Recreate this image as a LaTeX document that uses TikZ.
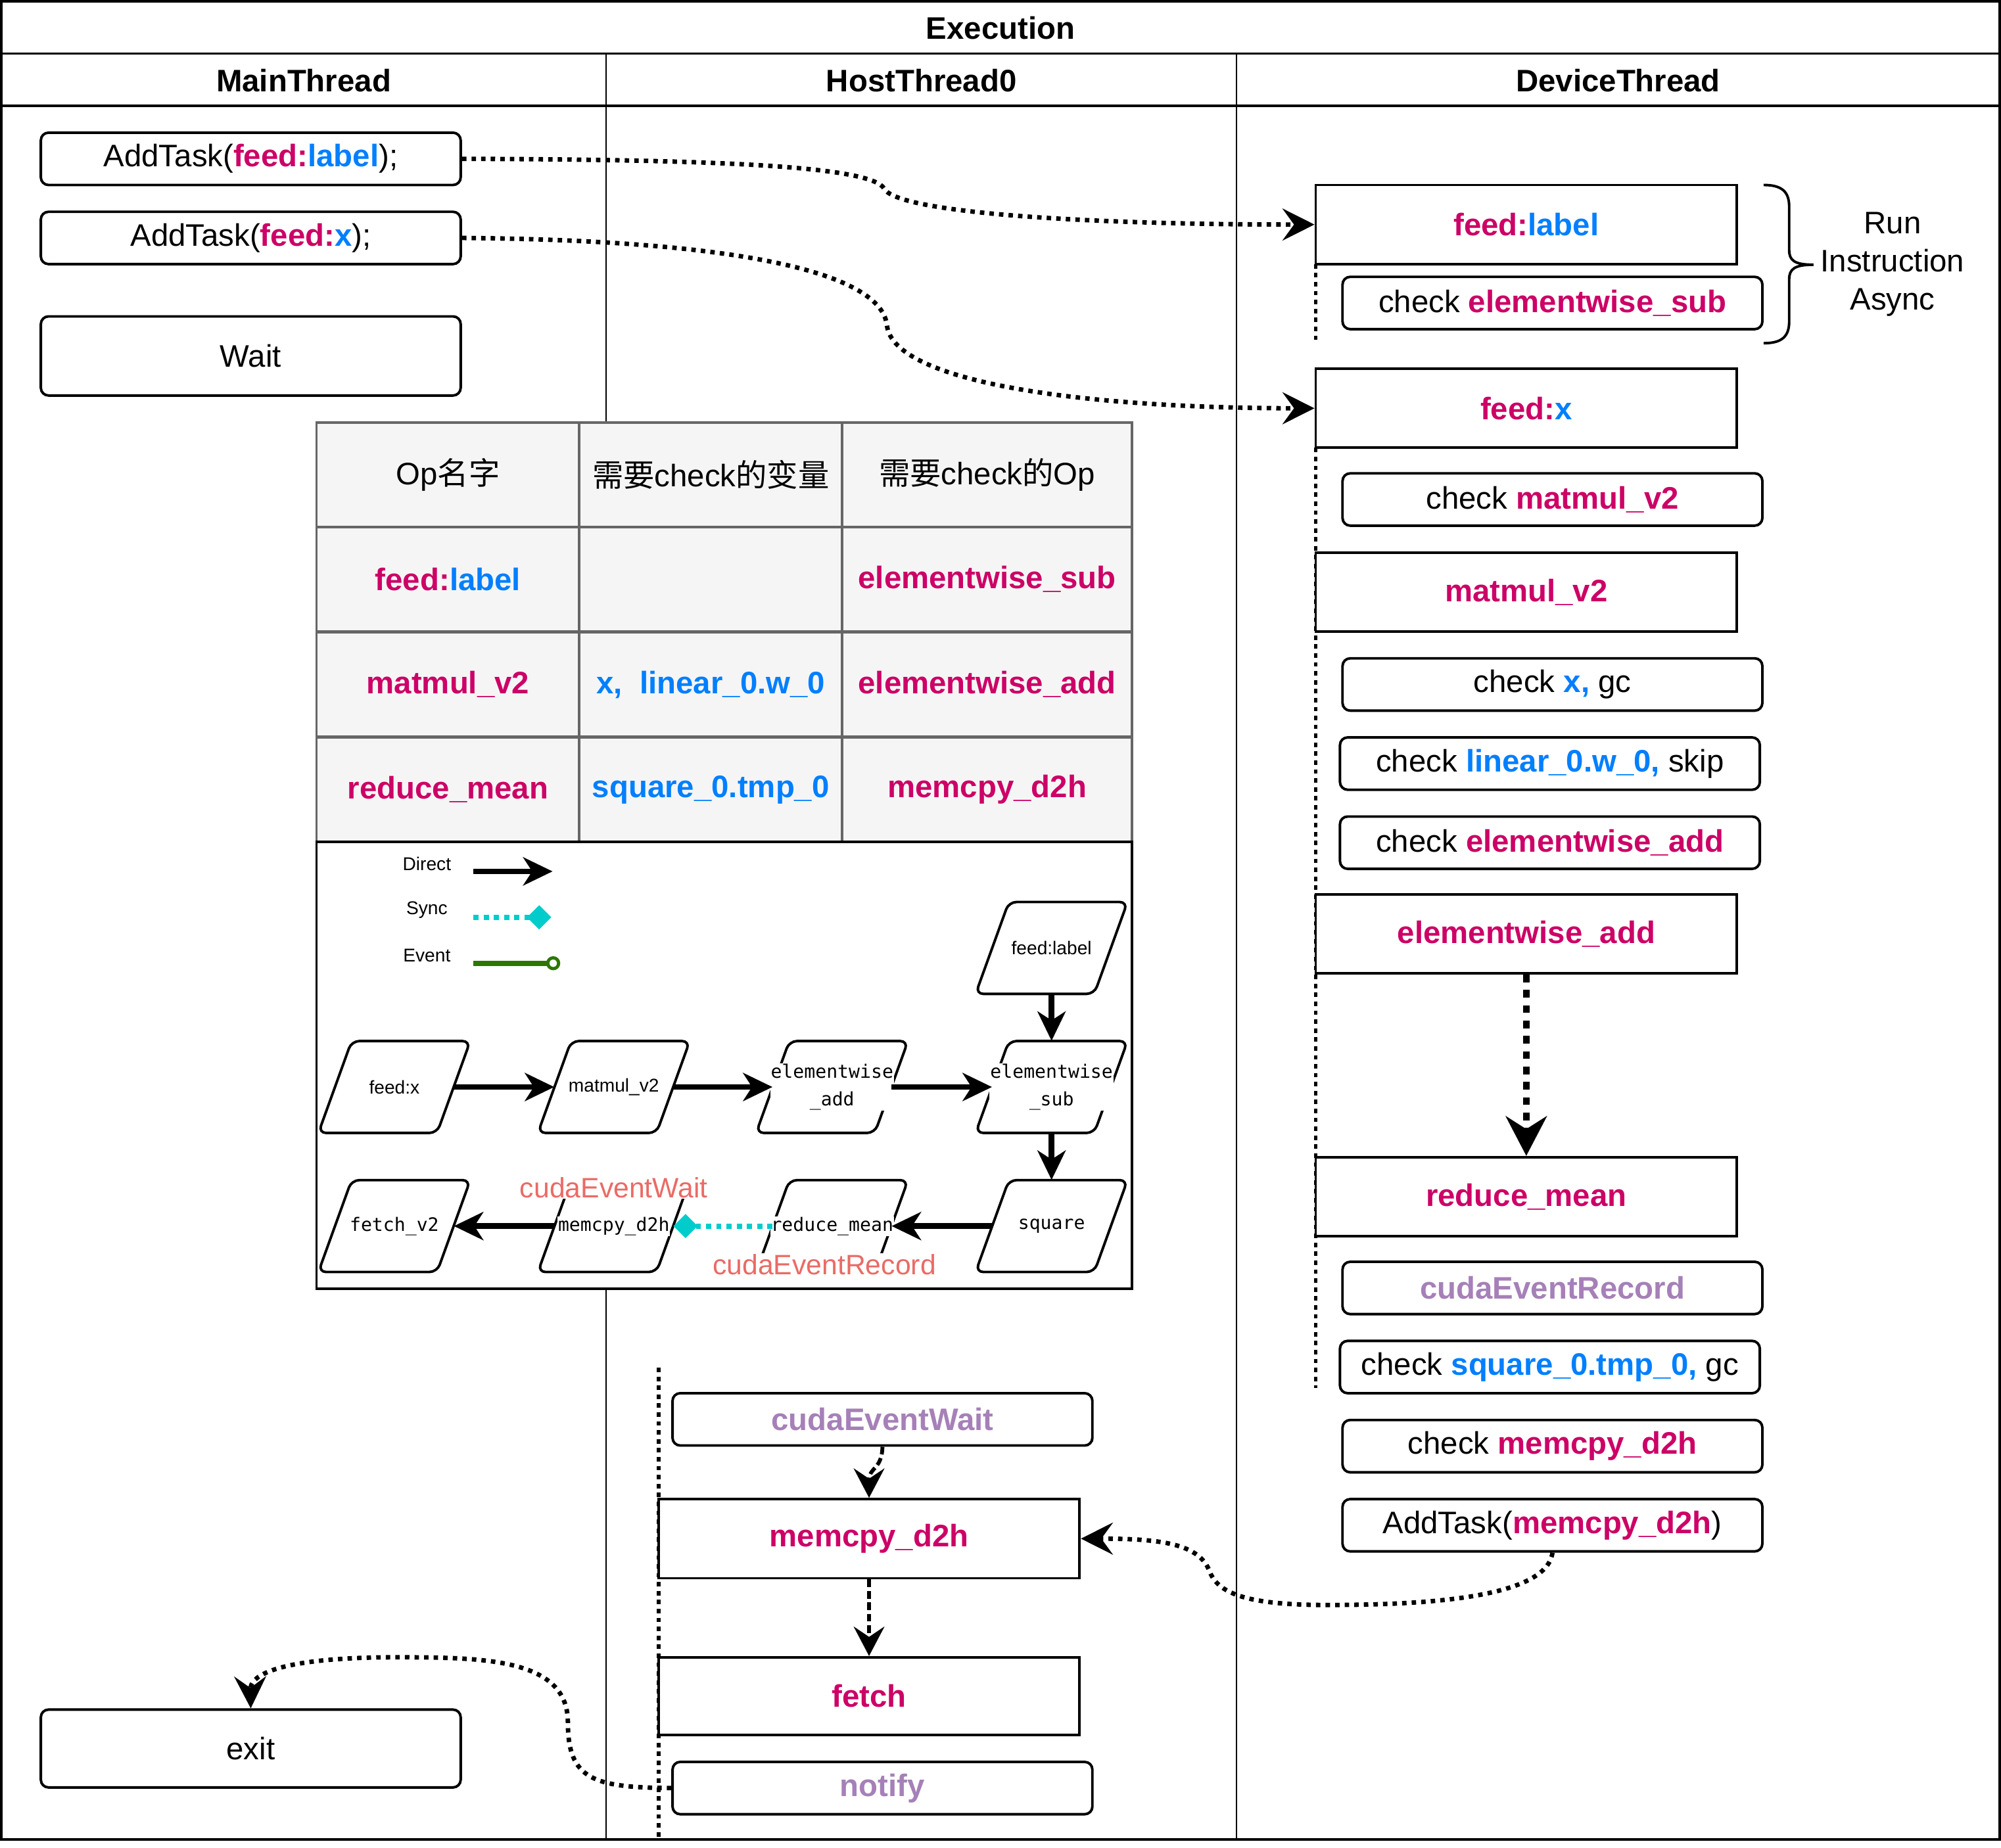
\documentclass[tikz,border=0pt]{standalone}
\usepackage{fontspec}
\setmainfont{Liberation Sans}
\newfontfamily\cjk{Noto Sans CJK SC}
\newfontfamily\gmono{DejaVu Sans Mono}
\usetikzlibrary{arrows.meta}
\definecolor{cpink}{HTML}{CC0066}
\definecolor{cblue}{HTML}{007FFF}
\definecolor{cpurple}{HTML}{A680B8}
\definecolor{csalmon}{HTML}{EA6B66}
\definecolor{cteal}{HTML}{00CCCC}
\definecolor{cgreen}{HTML}{2D7600}
\definecolor{cfill}{HTML}{F5F5F5}
\definecolor{cgrid}{HTML}{666666}
\newcommand\pk[1]{{\bfseries\color{cpink}#1}}
\newcommand\bl[1]{{\bfseries\color{cblue}#1}}
\newcommand\pu[1]{{\bfseries\color{cpurple}#1}}
\newcommand\fsb{\fontsize{24.4}{30}\selectfont}
\newcommand\fsg{\fontsize{14.5}{22}\selectfont}
\newcommand\fsl{\fontsize{22}{26}\selectfont}
\newcommand\gparal[5]{%
  \draw[line width=2pt, rounded corners=6pt, fill=white] ({#2-59.5},{#3+36}) -- ({#2-33.5},{#3-36}) -- ({#2+59.5},{#3-36}) -- ({#2+33.5},{#3+36}) -- cycle;
  \node[gnode] (#1) at (#2,#3) {};
  \node[#4] (#1t) at (#2,#3) {#5};}
\begin{document}
\begin{tikzpicture}[x=1pt,y=-1pt,
 rbox/.style={draw,line width=2pt,rounded corners=6pt,minimum width=329pt,minimum height=41pt,inner sep=0pt,fill=white,font=\fsb},
 sbox/.style={draw,line width=2pt,minimum width=330pt,minimum height=62pt,inner sep=0pt,fill=white,font=\fsb},
 cell/.style={draw=cgrid,fill=cfill,line width=2pt,minimum height=82pt,inner sep=0pt,font=\fsb},
 gnode/.style={minimum width=93pt,minimum height=72pt,inner sep=0pt},
 gsans/.style={font=\fsg, inner sep=0pt},
 gmonol/.style={font=\gmono\fsg, fill=white, inner sep=0.5pt, align=center},
 poolframe/.style={line width=2pt},
 laneline/.style={line width=1.3pt},
 lifeline/.style={line width=3pt, dash pattern=on 3.5pt off 3.5pt},
 dotarr/.style={line width=3.5pt, dash pattern=on 3.5pt off 4pt, -{Stealth[length=25pt,width=25pt,inset=9pt]}},
 dasharr/.style={line width=3pt, dash pattern=on 6pt off 3pt, -{Stealth[length=23pt,width=24pt,inset=8pt]}},
 thickarr/.style={line width=5.5pt, dash pattern=on 6pt off 6pt, -{Stealth[length=31pt,width=32pt,inset=10pt]}},
 garr/.style={line width=4.5pt, -{Stealth[length=23pt,width=22pt,inset=7pt]}},
 syncarr/.style={draw=cteal, line width=4pt, dash pattern=on 4pt off 4pt, -{Diamond[length=19pt,width=19pt,fill=cteal,color=cteal]}},
 evtarr/.style={draw=cgreen, line width=4pt, -{Circle[open,length=11pt,width=11pt,line width=2.5pt,color=cgreen]}},
 evlabel/.style={font=\fsl, text=csalmon, fill=white, inner sep=0.5pt},
]
\useasboundingbox (0,0) rectangle (1568,1448);
% pool frame
\draw[poolframe] (1,1) rectangle (1567,1442);
\draw[poolframe] (1,42) -- (1567,42);
\draw[poolframe] (1,83) -- (1567,83);
\draw[laneline] (475,42) -- (475,1442);
\draw[laneline] (969,42) -- (969,1442);
\node[font=\fsb\bfseries] (title) at (784,22) {Execution};
\node[font=\fsb\bfseries] (h1) at (238,63) {MainThread};
\node[font=\fsb\bfseries] (h2) at (722,63) {HostThread0};
\node[font=\fsb\bfseries] (h3) at (1268,63) {DeviceThread};

% table
\node[cell, minimum width=206pt] (t00) at (351,372) {Op{\cjk 名字}};
\node[cell, minimum width=206pt] (t01) at (557,372) {{\cjk 需要}check{\cjk 的变量}};
\node[cell, minimum width=227pt] (t02) at (773.5,372) {{\cjk 需要}check{\cjk 的}Op};
\node[cell, minimum width=206pt] (t10) at (351,454) {\pk{feed:}\bl{label}};
\node[cell, minimum width=206pt] (t11) at (557,454) {};
\node[cell, minimum width=227pt] (t12) at (773.5,454) {\pk{elementwise\_sub}};
\node[cell, minimum width=206pt] (t20) at (351,536.5) {\pk{matmul\_v2}};
\node[cell, minimum width=206pt] (t21) at (557,536.5) {\bl{x,\ \ linear\_0.w\_0}};
\node[cell, minimum width=227pt] (t22) at (773.5,536.5) {\pk{elementwise\_add}};
\node[cell, minimum width=206pt] (t30) at (351,619) {\pk{reduce\_mean}};
\node[cell, minimum width=206pt] (t31) at (557,619) {\bl{square\_0.tmp\_0}};
\node[cell, minimum width=227pt] (t32) at (773.5,619) {\pk{memcpy\_d2h}};

% graph box
\node[draw, line width=2pt, fill=white, minimum width=639pt, minimum height=350pt, inner sep=0pt] (gbox) at (567.5,835) {};
% legend
\node[font=\fsg] (lgd) at (334.5,677) {Direct};
\node[font=\fsg] (lgs) at (334.5,713) {Sync};
\node[font=\fsg] (lge) at (334.5,749) {Event};
\coordinate (lgd1) at (371,683); \coordinate (lgd2) at (433,683);
\coordinate (lgs1) at (371,719); \coordinate (lgs2) at (432,719);
\coordinate (lge1) at (371,755); \coordinate (lge2) at (439,755);
\draw[garr] (lgd1) -- (lgd2);
\draw[syncarr] (lgs1) -- (lgs2);
\draw[evtarr] (lge1) -- (lge2);
% graph nodes
\gparal{gfl}{824}{743}{gsans}{feed:label}
\gparal{gfx}{309}{852}{gsans}{feed:x}
\gparal{gmm}{481}{852}{gsans}{matmul\_v2}
\gparal{gea}{652}{852}{gmonol}{elementwise\\\_add}
\gparal{ges}{824}{852}{gmonol}{elementwise\\\_sub}
\gparal{gsq}{824}{961}{gmonol}{square}
\gparal{grm}{652}{961}{gmonol}{reduce\_mean}
\gparal{gmd}{481}{961}{gmonol}{memcpy\_d2h}
\gparal{gfv}{309}{961}{gmonol}{fetch\_v2}
\draw[garr] (gfx) -- (gmm);
\draw[garr] (gmm) -- (gea);
\draw[garr] (gea) -- (ges);
\draw[garr] (gfl) -- (ges);
\draw[garr] (ges) -- (gsq);
\draw[garr] (gsq) -- (grm);
\draw[syncarr] (grm) -- (gmd);
\draw[garr] (gmd) -- (gfv);
\node[evlabel] (lcw) at (481,931) {cudaEventWait};
\node[evlabel] (lcr) at (646,991) {cudaEventRecord};

% lifelines
\coordinate (hl1) at (516,1072);
\coordinate (hl2) at (516,1441);
\draw[lifeline] (1031,207) -- (1031,268);
\draw[lifeline] (1031,351) -- (1031,1088);
\draw[lifeline] (hl1) -- (hl2);

% main thread
\node[rbox] (at1) at (196.5,124.5) {AddTask(\pk{feed:}\bl{label});};
\node[rbox] (at2) at (196.5,186.5) {AddTask(\pk{feed:}\bl{x});};
\node[rbox, minimum height=62pt] (wait) at (196.5,279) {Wait};
\node[rbox, minimum height=61pt] (exit) at (196.5,1370.5) {exit};

% device thread
\node[sbox] (dfl) at (1196,176) {\pk{feed:}\bl{label}};
\node[rbox] (dcs) at (1216.5,237.5) {check \pk{elementwise\_sub}};
\node[sbox] (dfx) at (1196,320) {\pk{feed:}\bl{x}};
\node[rbox] (dcm) at (1216.5,391.5) {check \pk{matmul\_v2}};
\node[sbox] (dmm) at (1196,464) {\pk{matmul\_v2}};
\node[rbox] (dcx) at (1216.5,536.5) {check \bl{x,} gc};
\node[rbox] (dcl) at (1214.5,598.5) {check \bl{linear\_0.w\_0,} skip};
\node[rbox] (dca) at (1214.5,660.5) {check \pk{elementwise\_add}};
\node[sbox] (dea) at (1196,732) {\pk{elementwise\_add}};
\node[sbox] (drm) at (1196,938) {\pk{reduce\_mean}};
\node[rbox] (der) at (1216.5,1009.5) {\pu{cudaEventRecord}};
\node[rbox] (dcq) at (1214.5,1071.5) {check \bl{square\_0.tmp\_0,} gc};
\node[rbox] (dcd) at (1216.5,1133.5) {check \pk{memcpy\_d2h}};
\node[rbox] (dat) at (1216.5,1195.5) {AddTask(\pk{memcpy\_d2h})};

% brace
\draw[line width=2pt] (1382,145) .. controls (1396,145) and (1402,150) .. (1402,162) -- (1402,196) .. controls (1402,204) and (1406,207.5) .. (1421,207.5);
\draw[line width=2pt] (1382,269) .. controls (1396,269) and (1402,264) .. (1402,252) -- (1402,219) .. controls (1402,211) and (1406,207.5) .. (1421,207.5);
\node[font=\fsb, align=center] (rtext) at (1483,207) {Run\\Instruction\\Async};

% host thread
\node[rbox] (hcw) at (691.5,1112.5) {\pu{cudaEventWait}};
\node[sbox] (hmd) at (681,1206) {\pk{memcpy\_d2h}};
\node[sbox, minimum height=61pt] (hft) at (681,1329.5) {\pk{fetch}};
\node[rbox] (hnt) at (691.5,1401.5) {\pu{notify}};

% connectors
\draw[dotarr] (at1.east) .. controls (560,125) and (683,130) .. (693,148) .. controls (703,166) and (840,176) .. (dfl.west);
\draw[dotarr] (at2.east) .. controls (560,188) and (690,210) .. (695,255) .. controls (700,300) and (850,320) .. (dfx.west);
\draw[thickarr] (dea) -- (drm);
\draw[dasharr] (hcw.south) .. controls (691,1152) and (681,1150) .. (hmd.north);
\draw[dasharr] (hmd) -- (hft);
\draw[dotarr] (dat.south) .. controls (1212,1252) and (1120,1258) .. (1040,1258) .. controls (980,1258) and (955,1250) .. (948,1232) .. controls (940,1210) and (910,1206) .. (hmd.east);
\draw[dotarr] (hnt.west) .. controls (465,1401) and (445,1395) .. (445,1350) .. controls (445,1300) and (380,1299) .. (310,1299) .. controls (230,1299) and (196,1310) .. (exit.north);
\end{tikzpicture}
\end{document}
